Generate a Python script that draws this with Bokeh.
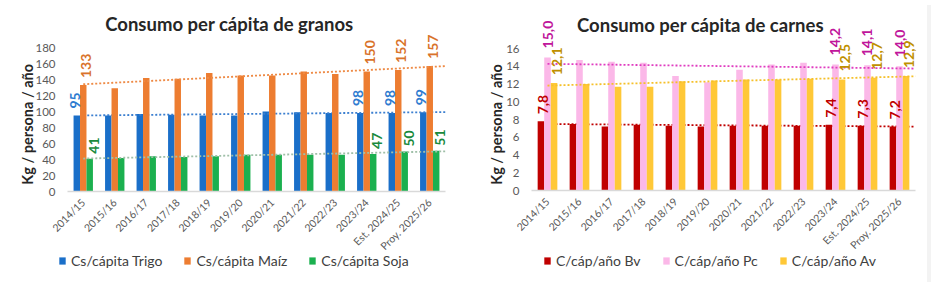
import numpy as np
from bokeh.plotting import figure
from bokeh.models import (ColumnDataSource, FixedTicker, Legend, LegendItem,
                          Label, LabelSet, Div)
from bokeh.core.properties import value
from bokeh.layouts import row, column
from bokeh.embed import file_html
from bokeh.resources import INLINE

# --- data -------------------------------------------------------------
campanias = ["2014/15", "2015/16", "2016/17", "2017/18", "2018/19", "2019/20",
             "2020/21", "2021/22", "2022/23", "2023/24", "Est. 2024/25",
             "Proy. 2025/26"]

trigo = [95, 95, 97, 96, 95, 95, 100, 99, 98, 98, 98, 99]
maiz = [133, 129, 142, 141, 148, 145, 145, 150, 147, 150, 152, 157]
soja = [41, 42, 44, 43, 44, 46, 46, 46, 46, 47, 50, 51]

bovina = [7.8, 7.5, 7.2, 7.4, 7.3, 7.2, 7.3, 7.3, 7.3, 7.4, 7.3, 7.2]
porcina = [15.0, 14.7, 14.5, 14.4, 12.9, 12.2, 13.6, 14.2, 14.4, 14.2, 14.1, 14.0]
aviar = [12.1, 12.0, 11.7, 11.7, 12.3, 12.4, 12.5, 12.5, 12.6, 12.5, 12.7, 12.9]

granos_ticks = [0, 20, 40, 60, 80, 100, 120, 140, 160, 180]
carnes_ticks = [0, 2, 4, 6, 8, 10, 12, 14, 16]

# indices of the campaigns that carry a value label
etiquetadas = [0, 9, 10, 11]

FONT = "Lato"
TICK_COLOR = "#595959"
TEXT_COLOR = "#262626"
H = 277


def build_chart(width, x_range, y_range, y_ticks, series, title, title_xy,
                ylab_xy, legend_loc, legend_spacing, fmt):
    # the frame covers the whole figure; axes sit at fixed data positions
    p = figure(width=width, height=H, output_backend="svg",
               toolbar_location=None, x_range=x_range, y_range=y_range,
               min_border=0)
    p.outline_line_color = None
    p.background_fill_color = "white"
    p.border_fill_color = "white"
    p.xgrid.visible = False
    p.ygrid.visible = False

    x = np.arange(len(campanias))
    items = []
    offsets = [-0.205, 0.0, 0.205]
    for (name, vals, color, lab_color, trend_color, lx, ly), off in zip(series, offsets):
        src = ColumnDataSource(dict(x=x + off, top=vals))
        r = p.vbar(x="x", top="top", width=0.205, source=src,
                   fill_color=color, line_color=None)
        items.append(LegendItem(label=name, renderers=[r]))

        # linear trend line over the whole series
        k, b = np.polyfit(x, vals, 1)
        tx = np.array([0.0, 11.5])
        p.line(tx, k * tx + b, line_color=trend_color, line_width=1.8,
               line_dash="2 2")

        lab = ColumnDataSource(dict(
            x=[x[i] + off for i in etiquetadas],
            y=[vals[i] for i in etiquetadas],
            t=[fmt(vals[i]) for i in etiquetadas]))
        p.add_layout(LabelSet(x="x", y="y", text="t", source=lab,
                              angle=np.pi / 2, text_align="left",
                              text_baseline="middle", x_offset=lx,
                              y_offset=ly, text_font=value(FONT),
                              text_font_style="bold", text_font_size="14px",
                              text_color=lab_color))

    xa = p.xaxis[0]
    xa.fixed_location = 0
    xa.bounds = (-0.5, 11.5)
    xa.ticker = FixedTicker(ticks=list(range(len(campanias))))
    xa.major_label_overrides = {i: c for i, c in enumerate(campanias)}
    xa.major_label_orientation = np.pi / 4
    xa.major_label_text_font = FONT
    xa.major_label_text_font_size = "10.5px"
    xa.major_label_text_color = TICK_COLOR
    xa.major_label_standoff = 3
    xa.major_tick_line_color = None
    xa.minor_tick_line_color = None
    xa.axis_line_color = "#d9d9d9"
    xa.axis_line_width = 1.5

    ya = p.yaxis[0]
    ya.fixed_location = -0.5
    ya.ticker = FixedTicker(ticks=y_ticks)
    ya.major_label_text_font = FONT
    ya.major_label_text_font_size = "11.5px"
    ya.major_label_text_color = TICK_COLOR
    ya.major_label_standoff = 6
    ya.major_tick_line_color = None
    ya.minor_tick_line_color = None
    ya.axis_line_color = None

    p.add_layout(Label(x=title_xy[0], y=title_xy[1], text=title,
                       text_align="center", text_baseline="middle",
                       text_font=FONT, text_font_style="bold",
                       text_font_size="18.5px", text_color=TEXT_COLOR))
    p.add_layout(Label(x=ylab_xy[0], y=ylab_xy[1], text="Kg / persona / año",
                       angle=np.pi / 2, text_align="center",
                       text_baseline="middle", text_font=FONT,
                       text_font_style="bold", text_font_size="14.5px",
                       text_color=TEXT_COLOR))

    leg = Legend(items=items, location=legend_loc, orientation="horizontal",
                 glyph_width=8, glyph_height=9, label_standoff=5,
                 spacing=legend_spacing, padding=0, margin=0,
                 label_height=12, border_line_color=None,
                 background_fill_alpha=0, label_text_font=FONT,
                 label_text_font_size="14px", label_text_color="#404040")
    p.add_layout(leg, "center")
    return p


granos = [
    ("Cs/cápita Trigo", trigo, "#1a6fc9", "#2e7bd0", "#3b7fd0", -2, 7),
    ("Cs/cápita Maíz", maiz, "#ed7d31", "#d9732b", "#ee8a45", 3, 7),
    ("Cs/cápita Soja", soja, "#1bb04f", "#1a8a3d", "#9fbfa8", 4, 5),
]
carnes = [
    ("C/cáp/año Bv", bovina, "#c00000", "#c00000", "#c00000", 2, 7),
    ("C/cáp/año Pc", porcina, "#fbb8e8", "#c0169b", "#e03cc0", 0, 9),
    ("C/cáp/año Av", aviar, "#ffc837", "#bf9000", "#f5c02a", 3, 8),
]

# left panel: 31.5 px per campaign, 0.8 px per kg, baseline 191 px from top
p1 = build_chart(470, (-0.5 - 67 / 31.5, 11.5 + 25 / 31.5),
                 (-(H - 191) / 0.8, 191 / 0.8), granos_ticks, granos,
                 "Consumo per cápita de granos", (4.64, 209), (-1.77, 84),
                 (58, 8), 21, lambda v: f"{v:.0f}")
# right panel: 32 px per campaign, 8.875 px per kg, baseline 190 px from top
p2 = build_chart(452, (-0.5 - 61 / 32, 11.5 + 7 / 32),
                 (-(H - 190) / 8.875, 190 / 8.875), carnes_ticks, carnes,
                 "Consumo per cápita de carnes", (4.78, 18.7), (-1.59, 7.44),
                 (73, 8), 21, lambda v: f"{v:.1f}".replace(".", ","))

edge = Div(width=9, height=H, styles={"background-color": "#f3f3f3"})
base = Div(width=931, height=5, styles={"background-color": "#dcdcdc"})
page = column(row(p1, p2, edge, spacing=0), base, spacing=0)

open("out.html", "w").write(file_html(page, INLINE))
